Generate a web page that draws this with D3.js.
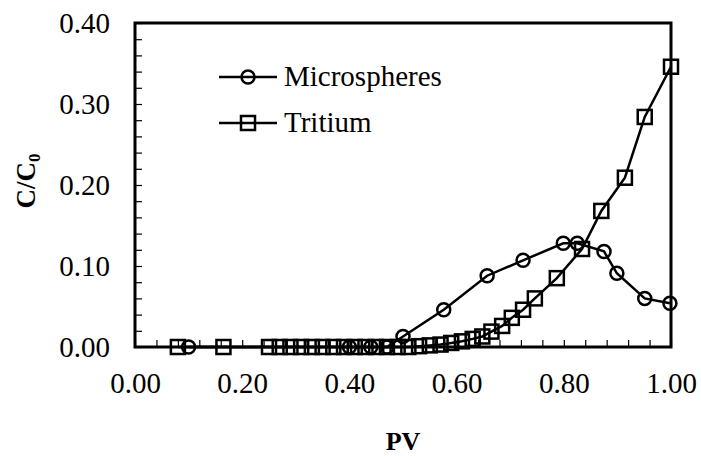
<!DOCTYPE html>
<html>
<head>
<meta charset="utf-8">
<script src="https://cdn.jsdelivr.net/npm/d3@7"></script>
<style>
  body { margin: 0; background: #fff; }
  svg text { font-family: "Liberation Serif", "Times New Roman", serif; fill: #000; }
</style>
</head>
<body>
<div id="chart"></div>
<script>
// values
const micro_pv = [0.10, 0.40, 0.44, 0.47, 0.50, 0.576, 0.657, 0.724, 0.799, 0.825, 0.875, 0.899, 0.951, 0.998];
const micro_c  = [0.000, 0.000, 0.000, 0.000, 0.013, 0.046, 0.088, 0.107, 0.128, 0.128, 0.118, 0.091, 0.060, 0.054];

const trit_pv = [0.08, 0.165, 0.25, 0.27, 0.29, 0.31, 0.33, 0.35, 0.37, 0.39, 0.41, 0.43, 0.45, 0.47,
                 0.49, 0.51, 0.53, 0.55, 0.57, 0.59, 0.61, 0.63, 0.648, 0.665, 0.685, 0.703, 0.724,
                 0.746, 0.787, 0.834, 0.870, 0.914, 0.951, 1.000];
const trit_c  = [0.000, 0.000, 0.000, 0.000, 0.000, 0.000, 0.000, 0.000, 0.000, 0.000, 0.000, 0.000, 0.000, 0.000,
                 0.000, 0.000, 0.001, 0.002, 0.003, 0.005, 0.007, 0.010, 0.013, 0.019, 0.026, 0.036, 0.046,
                 0.060, 0.085, 0.121, 0.168, 0.209, 0.284, 0.346];

const x_ticks = [0, 0.2, 0.4, 0.6, 0.8, 1.0];
const y_ticks = [0, 0.1, 0.2, 0.3, 0.4];
const series_names = ["Microspheres", "Tritium"];

const width = 701, height = 456;
const margin = {left: 135, right: 30, top: 23, bottom: 109};
const serif = '"Liberation Serif", "Times New Roman", serif';

const svg = d3.select("#chart").append("svg")
  .attr("width", width)
  .attr("height", height);

const x = d3.scaleLinear().domain([0, 1]).range([margin.left, width - margin.right]);
const y = d3.scaleLinear().domain([0, 0.4]).range([height - margin.bottom, margin.top]);

// minor ticks point inwards, no labels
svg.append("g")
  .attr("transform", `translate(0,${y(0)})`)
  .call(d3.axisTop(x).tickValues(d3.range(0, 1.0001, 0.04)).tickSize(7).tickFormat(""))
  .call(g => g.select(".domain").remove())
  .call(g => g.selectAll("line").attr("stroke-width", 1.2));

svg.append("g")
  .attr("transform", `translate(${x(0)},0)`)
  .call(d3.axisRight(y).tickValues(d3.range(0, 0.4001, 0.02)).tickSize(7).tickFormat(""))
  .call(g => g.select(".domain").remove())
  .call(g => g.selectAll("line").attr("stroke-width", 1.2));

// tick labels
svg.append("g")
  .attr("transform", `translate(0,${y(0)})`)
  .call(d3.axisBottom(x).tickValues(x_ticks).tickSize(0).tickPadding(25).tickFormat(d3.format(".2f")))
  .call(g => g.select(".domain").remove())
  .call(g => g.selectAll("text").attr("font-size", 29).style("font-family", serif));

svg.append("g")
  .attr("transform", `translate(${x(0)},0)`)
  .call(d3.axisLeft(y).tickValues(y_ticks).tickSize(0).tickPadding(25).tickFormat(d3.format(".2f")))
  .call(g => g.select(".domain").remove())
  .call(g => g.selectAll("text").attr("font-size", 29).style("font-family", serif));

// frame
svg.append("rect")
  .attr("x", x(0)).attr("y", y(0.4))
  .attr("width", x(1) - x(0)).attr("height", y(0) - y(0.4))
  .attr("fill", "none").attr("stroke", "#000").attr("stroke-width", 3);

// axis titles
svg.append("text")
  .attr("x", x(0.5)).attr("y", 450)
  .attr("text-anchor", "middle")
  .attr("font-size", 26).attr("font-weight", "bold")
  .style("font-family", serif)
  .text("PV");

const ytitle = svg.append("text")
  .attr("transform", `translate(35,${y(0.2) - 4}) rotate(-90)`)
  .attr("text-anchor", "middle")
  .attr("font-size", 27).attr("font-weight", "bold")
  .style("font-family", serif);
ytitle.append("tspan").text("C/C");
ytitle.append("tspan").attr("font-size", 17).attr("dy", 5).text("0");

const line = d3.line().x(d => x(d[0])).y(d => y(d[1]));
const micro = micro_pv.map((v, i) => [v, micro_c[i]]);
const trit = trit_pv.map((v, i) => [v, trit_c[i]]);

function draw_series(data, shape) {
  const g = svg.append("g");
  g.append("path").datum(data)
    .attr("d", line)
    .attr("fill", "none").attr("stroke", "#000").attr("stroke-width", 2.5);
  if (shape === "circle") {
    g.selectAll("circle").data(data).join("circle")
      .attr("cx", d => x(d[0])).attr("cy", d => y(d[1])).attr("r", 6.5)
      .attr("fill", "none").attr("stroke", "#000").attr("stroke-width", 2.5);
  } else {
    g.selectAll("rect").data(data).join("rect")
      .attr("x", d => x(d[0]) - 7).attr("y", d => y(d[1]) - 7)
      .attr("width", 14).attr("height", 14)
      .attr("fill", "none").attr("stroke", "#000").attr("stroke-width", 2.5);
  }
}

draw_series(trit, "square");
draw_series(micro, "circle");

// legend
const legend = svg.append("g");
series_names.forEach((name, i) => {
  const ly = 77 + i * 46;
  legend.append("line")
    .attr("x1", 219).attr("x2", 277).attr("y1", ly).attr("y2", ly)
    .attr("stroke", "#000").attr("stroke-width", 2.5);
  if (i === 0) {
    legend.append("circle").attr("cx", 248).attr("cy", ly).attr("r", 6.5)
      .attr("fill", "none").attr("stroke", "#000").attr("stroke-width", 2.5);
  } else {
    legend.append("rect").attr("x", 241).attr("y", ly - 7).attr("width", 14).attr("height", 14)
      .attr("fill", "none").attr("stroke", "#000").attr("stroke-width", 2.5);
  }
  legend.append("text")
    .attr("x", 284).attr("y", ly + 9)
    .attr("font-size", 29)
    .style("font-family", serif)
    .text(name);
});
</script>
</body>
</html>
